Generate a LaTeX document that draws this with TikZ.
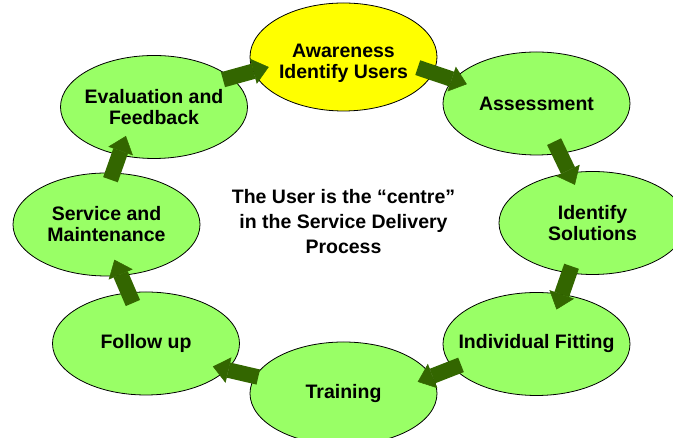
\documentclass[tikz,border=0pt]{standalone}
\usepackage{fontspec}
\setmainfont{Liberation Sans}
\usetikzlibrary{shapes.geometric,arrows.meta}

\definecolor{stagegreen}{RGB}{153,255,102}
\definecolor{stageyellow}{RGB}{255,255,0}
\definecolor{flowgreen}{RGB}{51,102,0}

\tikzset{
  stage/.style={ellipse, draw=black, line width=0.8pt, fill=stagegreen,
    minimum width=187pt, minimum height=103pt, inner xsep=-20pt, inner ysep=0pt,
    outer sep=0pt, align=center, font=\fontsize{19.5}{21}\selectfont\bfseries},
  flow/.style={draw=flowgreen, line width=15.5pt,
    -{Triangle[width=26pt,length=16pt,line width=0.5pt]}},
}

\begin{document}
\begin{tikzpicture}[x=1pt,y=1pt]
  \useasboundingbox (0,0) rectangle (673,438);

  % stages of the cycle
  \node[stage, fill=stageyellow, minimum height=108pt, text height=47pt] (aware) at (343.5,381) {Awareness\\Identify Users};
  \node[stage] (assess) at (536.5,334.5) {Assessment};
  \node[stage] (ident) at (592.5,215) {Identify\\Solutions};
  \node[stage] (fit) at (536.5,94) {Individual Fitting};
  \node[stage] (train) at (343.5,44.5) {Training};
  \node[stage] (follow) at (146,94.5) {Follow up};
  \node[stage] (service) at (106.5,213.5) {Service and\\Maintenance};
  \node[stage] (eval) at (154,331) {Evaluation and\\Feedback};

  % centre text
  \node[align=center, font=\fontsize{19.5}{25}\selectfont\bfseries] (hub) at (343.5,216)
    {The User is the “centre”\\in the Service Delivery\\Process};

  % block arrows
  \draw[flow, shorten <=-16pt, shorten >=-14pt] (aware.-10) -- (assess.164);
  \draw[flow, shorten <=-13pt, shorten >=-13pt] (assess.-65) -- (ident.115);
  \draw[flow, shorten <=-7pt, shorten >=-16pt] (ident.-115) -- (fit.63);
  \draw[flow, shorten <=-8pt, shorten >=-15pt] (fit.-164.5) -- (train.11);
  \draw[flow, shorten <=-3pt, shorten >=-14pt] (train.169.6) -- (follow.-18.6);
  \draw[flow, shorten <=-11pt, shorten >=-17pt] (follow.109.5) -- (service.-74);
  \draw[flow, shorten <=-7pt, shorten >=-20pt] (service.83) -- (eval.-126.5);
  \draw[flow, shorten <=-8pt, shorten >=-16pt] (eval.21.5) -- (aware.-171.3);
\end{tikzpicture}
\end{document}
